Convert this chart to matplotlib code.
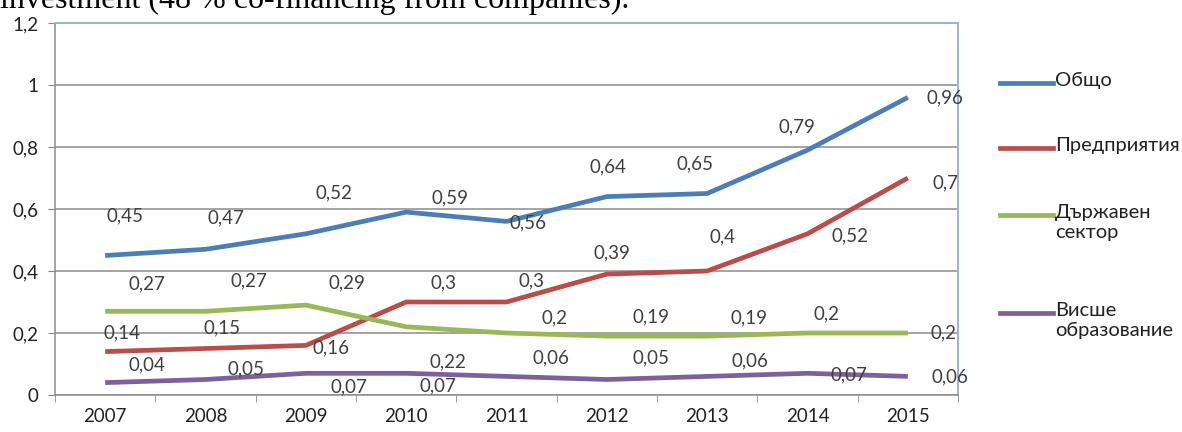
import matplotlib
matplotlib.use("Agg")
import matplotlib.pyplot as plt
from matplotlib.lines import Line2D
from matplotlib.ticker import FuncFormatter, FixedLocator

# Data
years = ["2007", "2008", "2009", "2010", "2011", "2012", "2013", "2014", "2015"]
total = [0.45, 0.47, 0.52, 0.59, 0.56, 0.64, 0.65, 0.79, 0.96]
business = [0.14, 0.15, 0.16, 0.30, 0.30, 0.39, 0.40, 0.52, 0.70]
government = [0.27, 0.27, 0.29, 0.22, 0.20, 0.19, 0.19, 0.20, 0.20]
higher_edu = [0.04, 0.05, 0.07, 0.07, 0.06, 0.05, 0.06, 0.07, 0.06]
# label text as printed on the chart (one per point)
gov_labels = ["0,27", "0,27", "0,29", "0,22", "0,2", "0,19", "0,19", "0,2", "0,2"]
edu_labels = ["0,04", "0,05", "0,07", "0,07", "0,06", "0,05", "0,06", "0,07", "0,06"]
series_names = ["Общо", "Предприятия", "Държавен\nсектор", "Висше\nобразование"]

colors = ["#4A7EBB", "#BE4B48", "#98B954", "#7D60A0"]

# label offsets in pixels (dx, dy) relative to each point
off_total = [(20, 40), (20, 31), (28, 41), (44, 14), (21, -1), (1, 30), (-12, 30), (-11, 23), (37, 0)]
off_business = [(17, 19), (17, 21), (25, -2), (37, 19), (25, 21), (5, 21), (15, 34), (43, -2), (38, -5)]
off_gov = [(42, 27), (43, 30), (41, 22), (42, -35), (48, 15), (44, 19), (42, 18), (19, 19), (36, 0)]
off_edu = [(42, 18), (40, 11), (43, -14), (32, -13), (44, 19), (44, 22), (43, 16), (41, -2), (42, 0)]


def fmt(v):
    s = ("%.2f" % v).rstrip("0").rstrip(".")
    return s.replace(".", ",")


plt.rcParams["font.family"] = ["Lato", "DejaVu Sans"]

fig = plt.figure(figsize=(11.82, 4.32), dpi=100)
ax = fig.add_axes([55 / 1182, 1 - 395 / 432, (958 - 55) / 1182, (395 - 23) / 432])

x = list(range(len(years)))
all_series = [total, business, government, higher_edu]
all_offsets = [off_total, off_business, off_gov, off_edu]
all_labels = [[fmt(v) for v in total], [fmt(v) for v in business], gov_labels, edu_labels]

for vals, c in zip(all_series, colors):
    ax.plot(x, vals, color=c, lw=3.4, solid_capstyle="butt", solid_joinstyle="round", zorder=3)

for vals, offs, labs in zip(all_series, all_offsets, all_labels):
    for xi, v, (dx, dy), lab in zip(x, vals, offs, labs):
        ax.annotate(lab, (xi, v), xytext=(dx, dy), textcoords="offset pixels",
                    ha="center", va="center", fontsize=13.5, color="#404040", zorder=4)

ax.set_xlim(-0.5, len(years) - 0.5)
ax.set_ylim(0, 1.2)
ax.set_yticks([0, 0.2, 0.4, 0.6, 0.8, 1.0, 1.2])
ax.yaxis.set_major_formatter(FuncFormatter(lambda v, p: fmt(v)))
ax.set_xticks(x)
ax.set_xticklabels(years)
ax.xaxis.set_minor_locator(FixedLocator([i + 0.5 for i in range(-1, len(years))]))
ax.tick_params(axis="x", which="major", length=0, pad=9, labelsize=13.5, labelcolor="#222222")
ax.tick_params(axis="x", which="minor", length=5, color="#888888", direction="out")
ax.tick_params(axis="y", length=5, color="#888888", pad=7, labelsize=13.5, labelcolor="#222222")

ax.grid(axis="y", color="#8c8c8c", lw=1.1, zorder=0)
for s in ["left", "bottom"]:
    ax.spines[s].set_color("#8c8c8c")
    ax.spines[s].set_linewidth(1.1)
for s in ["top", "right"]:
    ax.spines[s].set_color("#9db4cf")
    ax.spines[s].set_linewidth(1.4)

# legend on the right
leg_y = [83, 148, 215, 313]
for name, c, yy in zip(series_names, colors, leg_y):
    yf = 1 - yy / 432
    fig.add_artist(Line2D([1000 / 1182, 1053 / 1182], [yf, yf], color=c, lw=3.4,
                          transform=fig.transFigure))
    fig.text(1055 / 1182, 1 - (yy - 11) / 432, name, ha="left", va="top",
             fontsize=14.5, color="#222222", linespacing=1.2)

# caption fragment above the chart
fig.text(0.0, 1 - 8 / 432, "investment (48 % co-financing from companies).",
         ha="left", va="baseline", fontsize=23, family="Liberation Serif", color="black")

fig.savefig("out.png", dpi=100)
